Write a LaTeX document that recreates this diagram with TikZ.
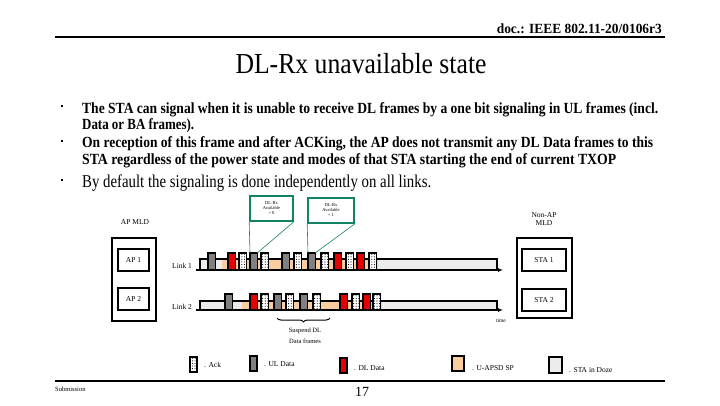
\documentclass[tikz,border=0pt]{standalone}
\usepackage{fontspec}
\setmainfont{Liberation Serif}
\usetikzlibrary{patterns,decorations.pathreplacing,arrows.meta}
\pgfdeclarepatternformonly{bigdots}{\pgfqpoint{-1pt}{-1pt}}{\pgfqpoint{1.5pt}{1.5pt}}{\pgfqpoint{2.6pt}{2.6pt}}{\pgfpathcircle{\pgfqpoint{0pt}{0pt}}{0.55pt}\pgfusepath{fill}}
\definecolor{ulgray}{RGB}{128,128,128}
\definecolor{dlred}{RGB}{228,0,0}
\definecolor{peach}{RGB}{250,205,160}
\definecolor{dozegray}{RGB}{236,236,236}
\definecolor{callgreen}{RGB}{20,130,100}
\newcommand\fitw[2]{\resizebox{#1}{\height}{#2}}
\tikzset{
  frm/.style={draw=black, line width=1.2pt, inner sep=0pt, outer sep=0pt, minimum width=7.2pt, anchor=south west},
  fa/.style={minimum height=17pt},
  fb/.style={minimum height=16pt},
  ulf/.style={frm, fill=ulgray},
  dlf/.style={frm, fill=dlred},
  ackf/.style={frm, fill=white, postaction={pattern=bigdots}},
  doze/.style={draw=black, line width=1.1pt, fill=dozegray},
  sp/.style={fill=peach},
  lbl/.style={font=\fontsize{7.5}{8.5}\selectfont, inner sep=0pt},
  boxd/.style={draw=black, line width=1.3pt, inner sep=0pt},
  call/.style={draw=callgreen, line width=1.6pt, fill=white, inner sep=0pt, align=center, font=\fontsize{4.5}{5}\selectfont},
  callline/.style={draw=callgreen, line width=0.6pt},
  bul/.style={fill=black, inner sep=0pt, minimum size=2.6pt},
  btxt/.style={anchor=base west, inner sep=0pt, font=\bfseries\fontsize{15.5}{17}\selectfont},
  axis/.style={line width=1.1pt, -{Latex[length=5pt,width=4pt]}}
}
\begin{document}
\begin{tikzpicture}[x=1pt,y=-1pt]
\useasboundingbox (0,0) rectangle (720,405);
% header
\node[anchor=base east, inner sep=0pt, font=\bfseries\fontsize{14}{15}\selectfont] (hdr) at (662,33) {\fitw{165pt}{doc.: IEEE 802.11-20/0106r3}};
\draw[line width=2pt] (55,37) -- (665,37);
\node[anchor=base, inner sep=0pt, font=\fontsize{29}{32}\selectfont] (title) at (361,73) {\fitw{251pt}{DL-Rx unavailable state}};
% bullets
\node[bul] (d1) at (62,106) {};
\node[bul] (d2) at (62,141) {};
\node[bul] (d3) at (62,180) {};
\node[btxt] (b1) at (82,113) {\fitw{576pt}{The STA can signal when it is unable to receive DL frames by a one bit signaling in UL frames (incl.}};
\node[btxt] (b1b) at (82,129) {\fitw{112pt}{Data or BA frames).}};
\node[btxt] (b2) at (82,147) {\fitw{571pt}{On reception of this frame and after ACKing, the AP does not transmit any DL Data frames to this}};
\node[btxt] (b2b) at (82,164) {\fitw{534pt}{STA regardless of the power state and modes of that STA starting the end of current TXOP}};
\node[anchor=base west, inner sep=0pt, font=\fontsize{18}{20}\selectfont] (b3) at (82,187) {\fitw{349pt}{By default the signaling is done independently on all links.}};
% MLD boxes
\node[lbl] (apl) at (135,222) {AP MLD};
\node[boxd, minimum width=44pt, minimum height=83pt] (apmld) at (134,279.5) {};
\node[boxd, lbl, draw, line width=1.3pt, minimum width=31pt, minimum height=22pt] (ap1) at (133.5,260) {AP 1};
\node[boxd, lbl, draw, line width=1.3pt, minimum width=31pt, minimum height=22pt] (ap2) at (133.5,299) {AP 2};
\node[lbl, align=center] (stal) at (544,219) {Non-AP\\MLD};
\node[boxd, minimum width=55pt, minimum height=80pt] (stamld) at (544.5,278) {};
\node[boxd, lbl, draw, line width=1.3pt, minimum width=44pt, minimum height=22pt] (sta1) at (544,260) {STA 1};
\node[boxd, lbl, draw, line width=1.3pt, minimum width=44pt, minimum height=22pt] (sta2) at (544,300) {STA 2};
\node[lbl, anchor=west] (lk1) at (172,266) {Link 1};
\node[lbl, anchor=west] (lk2) at (172,307) {Link 2};
% link 1
\coordinate (l1s) at (196,270); \coordinate (l1e) at (503,270);
\draw[axis] (l1s) -- (l1e);
\draw[doze] (200,259) rectangle (497,270);
\fill[sp] (222,259.6) rectangle (378,269.4);
\node[ulf,fa] (u1a) at (208,270) {};
\node[dlf,fa] (d1a) at (228,270) {};
\node[ackf,fa] (a1a) at (239,270) {};
\node[ulf,fa] (u1b) at (250,270) {};
\node[ackf,fa] (a1b) at (261,270) {};
\node[ulf,fa] (u1c) at (282,270) {};
\node[ackf,fa] (a1c) at (294,270) {};
\node[ulf,fa] (u1d) at (308,270) {};
\node[ackf,fa] (a1d) at (321,270) {};
\node[dlf,fa] (d1b) at (334,270) {};
\node[ackf,fa] (a1e) at (346,270) {};
\node[dlf,fa] (d1c) at (357,270) {};
\node[ackf,fa] (a1f) at (369,270) {};
% link 2
\coordinate (l2s) at (196,310); \coordinate (l2e) at (503,310);
\draw[axis] (l2s) -- (l2e);
\draw[doze] (200,301) rectangle (497,310);
\fill[sp] (242,301.6) rectangle (382,309.4);
\node[ulf,fb] (u2a) at (225,310) {};
\node[dlf,fb] (d2a) at (250,310) {};
\node[ackf,fb] (a2a) at (261,310) {};
\node[ulf,fb] (u2b) at (274,310) {};
\node[ackf,fb] (a2b) at (286,310) {};
\node[ulf,fb] (u2c) at (300,310) {};
\node[ackf,fb] (a2c) at (313,310) {};
\node[dlf,fb] (d2b) at (340,310) {};
\node[ackf,fb] (a2d) at (352,310) {};
\node[dlf,fb] (d2c) at (363,310) {};
\node[ackf,fb] (a2e) at (373,310) {};
\node[inner sep=0pt, font=\fontsize{5.5}{6}\selectfont] (tm) at (501,321) {time};
% callouts
\node[call, minimum width=43pt, minimum height=25pt] (c0) at (271.5,208.5) {DL-Rx\\Available\\= 0};
\node[call, minimum width=46pt, minimum height=25pt] (c1) at (331,210.5) {DL-Rx\\Available\\= 1};
\draw[callline] (c0.south west) -- (u1b.north west);
\draw[callline] (c0.south east) -- (u1b.north east);
\draw[callline] (c1.south west) -- (u1d.north west);
\draw[callline] (c1.south east) -- (u1d.north east);
% brace
\coordinate (brl) at (277,318); \coordinate (brr) at (330,318);
\draw[line width=1pt, decorate, decoration={brace, mirror, amplitude=4pt}] (brl) -- (brr);
\node[lbl, align=center, font=\fontsize{6.5}{11}\selectfont] (susp) at (305,336) {Suspend DL\\Data frames};
% legend
\node[ackf, minimum width=7pt, minimum height=15pt] (lg1) at (190,372) {};
\node[lbl, anchor=west] (lt1) at (204,365) {. Ack};
\node[ulf, minimum width=7pt, minimum height=15pt] (lg2) at (250,371) {};
\node[lbl, anchor=west] (lt2) at (264,364) {. UL Data};
\node[dlf, minimum width=7pt, minimum height=15pt] (lg3) at (340,373) {};
\node[lbl, anchor=west] (lt3) at (354,368) {. DL Data};
\node[frm, fill=peach, minimum width=12pt, minimum height=15pt] (lg4) at (452,371) {};
\node[lbl, anchor=west] (lt4) at (472,368) {. U-APSD SP};
\node[frm, fill=dozegray, minimum width=13pt, minimum height=16pt] (lg5) at (549,373) {};
\node[lbl, anchor=west] (lt5) at (569,370) {. STA in Doze};
% footer
\draw[line width=2pt] (55,381) -- (665,381);
\node[lbl, anchor=west, font=\fontsize{6.5}{7}\selectfont] (sub) at (55,389) {Submission};
\node[inner sep=0pt, font=\fontsize{14}{15}\selectfont] (pg) at (362,392) {17};
\end{tikzpicture}
\end{document}
